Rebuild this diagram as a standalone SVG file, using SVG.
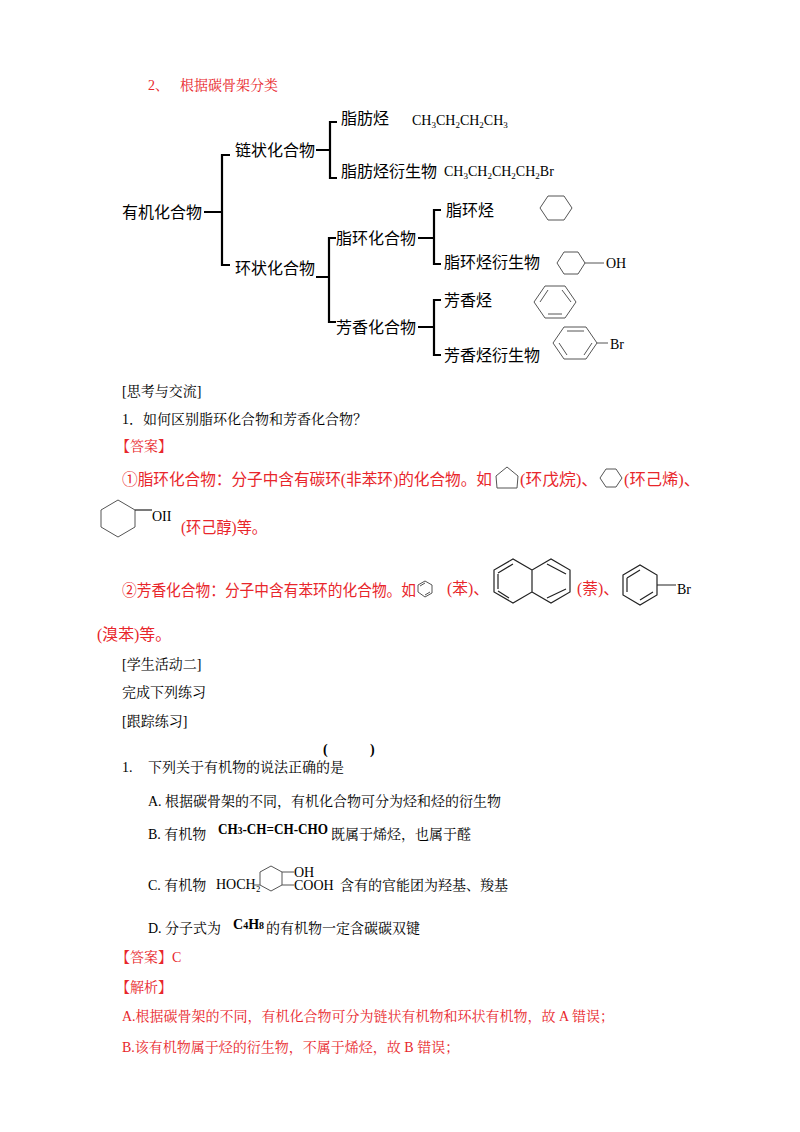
<svg xmlns="http://www.w3.org/2000/svg" width="800" height="1132" viewBox="0 0 800 1132">
<style>
.t{font-family:"Noto Sans CJK SC","Noto Sans CJK JP",sans-serif;font-size:16px;fill:#000}
.s{font-family:"Liberation Serif","Noto Serif CJK SC","Noto Sans CJK SC",serif;font-size:14px;fill:#000}
.r{fill:#e8262b}
.a{font-family:"Liberation Serif","Noto Sans CJK SC",serif;font-size:16px;fill:#e8262b}
.br{fill:none;stroke:#000;stroke-width:2.2}
.ring{fill:none;stroke:#555;stroke-width:1}
.rk{fill:none;stroke:#222;stroke-width:1.2}
</style>
<rect width="800" height="1132" fill="#fff"/>
<text class="s r" x="148" y="90">2、</text>
<text class="s r" x="180" y="90">根据碳骨架分类</text>
<g id="connectors">
<path class="br" d="M204 212H222M230 155H222V265H230"/>
<path class="br" d="M316 150H330M337 122H330V178H337"/>
<path class="br" d="M316 277H329M336 238H329V322H336"/>
<path class="br" d="M418 238H434M441 210H434V264H441"/>
<path class="br" d="M418 327H434M441 300H434V355H441"/>
</g>
<g id="root"><text class="t" x="122" y="218">有机化合物</text></g>
<g id="chain"><text class="t" x="235" y="156">链状化合物</text></g>
<g id="cyclic"><text class="t" x="235" y="274">环状化合物</text></g>
<g id="aliphatic"><text class="t" x="341" y="124">脂肪烃</text>
<text class="s" x="412" y="125">CH<tspan font-size="9" dy="3">3</tspan><tspan dy="-3">CH</tspan><tspan font-size="9" dy="3">2</tspan><tspan dy="-3">CH</tspan><tspan font-size="9" dy="3">2</tspan><tspan dy="-3">CH</tspan><tspan font-size="9" dy="3">3</tspan></text></g>
<g id="aliphatic-der"><text class="t" x="341" y="177">脂肪烃衍生物</text>
<text class="s" x="444" y="176">CH<tspan font-size="9" dy="3">3</tspan><tspan dy="-3">CH</tspan><tspan font-size="9" dy="3">2</tspan><tspan dy="-3">CH</tspan><tspan font-size="9" dy="3">2</tspan><tspan dy="-3">CH</tspan><tspan font-size="9" dy="3">2</tspan><tspan dy="-3">Br</tspan></text></g>
<g id="alicyclic"><text class="t" x="336" y="244">脂环化合物</text></g>
<g id="aromatic"><text class="t" x="336" y="333">芳香化合物</text></g>
<g id="alicyclic-hc"><text class="t" x="446" y="216">脂环烃</text>
<polygon class="ring" points="540,208 548,196 564,196 572,208 564,220 548,220"/></g>
<g id="alicyclic-der"><text class="t" x="444" y="268">脂环烃衍生物</text>
<polygon class="ring" points="557,263 564,252 578,252 585,263 578,274 564,274"/>
<path class="ring" d="M585 263H604"/><text class="s" x="606" y="268">OH</text></g>
<g id="arom-hc"><text class="t" x="444" y="306">芳香烃</text>
<polygon class="ring" points="534,302 545,286 565,286 576,302 565,318 545,318"/>
<path class="ring" d="M540 302L548 290M562 290L571 302M562 314L548 314"/></g>
<g id="arom-der"><text class="t" x="444" y="361">芳香烃衍生物</text>
<polygon class="ring" points="553,343 564,327 586,327 597,343 586,359 564,359"/>
<path class="ring" d="M567 331H584M592 343L584 355M567 355L559 343M597 343H608"/>
<text class="s" x="610" y="349">Br</text></g>

<text class="s" x="122" y="396">[思考与交流]</text>
<text class="s" x="122" y="424">1．如何区别脂环化合物和芳香化合物？</text>
<text class="s r" x="116" y="451" font-size="15">【答案】</text>
<text class="a" x="122" y="485" textLength="370" lengthAdjust="spacingAndGlyphs">①脂环化合物：分子中含有碳环(非苯环)的化合物。如</text>
<polygon class="ring" points="507,467 518,476 517,488 497,488 496,476"/>
<text class="a" x="520" y="485" textLength="78" lengthAdjust="spacingAndGlyphs">(环戊烷)、</text>
<polygon class="ring" points="600,478 606,469 616,469 622,478 616,487 606,487"/>
<text class="a" x="624" y="485" textLength="76" lengthAdjust="spacingAndGlyphs">(环己烯)、</text>
<polygon class="ring" points="101,523 101,510 118,500 135,510 135,527 118,537 101,527"/>
<path class="rk" d="M135 510L152 510"/>
<text class="s" x="152" y="521" font-size="17">OII</text>
<text class="a" x="181" y="533" textLength="86" lengthAdjust="spacingAndGlyphs">(环己醇)等。</text>
<text class="a" x="122" y="596" textLength="294" lengthAdjust="spacingAndGlyphs">②芳香化合物：分子中含有苯环的化合物。如</text>
<polygon class="ring" points="418,592 418,585 425,581 432,585 432,593 425,597"/>
<path class="ring" d="M420 586L425 583M430 592L425 595"/>
<text class="a" x="447" y="594" textLength="42" lengthAdjust="spacingAndGlyphs">(苯)、</text>
<g class="rk">
<path d="M532 570L513 559L494 570V592L513 603L532 592V570L551 559L570 570V592L551 603L532 592"/>
<path d="M498 573L513 564M498 589V574M509 598L498 591M547 564L566 574M566 589L547 598"/>
</g>
<text class="a" x="577" y="594" textLength="42" lengthAdjust="spacingAndGlyphs">(萘)、</text>
<polygon class="rk" points="623,575 640,565 657,575 657,595 640,605 623,595"/>
<path class="rk" d="M627 578L640 570M653 592L640 600M627 592V578M657 585H676"/>
<text class="s" x="677" y="594" font-size="18">Br</text>
<text class="a" x="97" y="640" textLength="74" lengthAdjust="spacingAndGlyphs">(溴苯)等。</text>

<text class="s" x="122" y="669">[学生活动二]</text>
<text class="s" x="122" y="697">完成下列练习</text>
<text class="s" x="122" y="726">[跟踪练习]</text>
<text class="s" x="122" y="772">1.</text>
<text class="s" x="148" y="772">下列关于有机物的说法正确的是</text>
<text class="s" x="323" y="754" font-weight="bold">(</text>
<text class="s" x="370" y="754" font-weight="bold">)</text>
<text class="s" x="148" y="806">A. 根据碳骨架的不同，有机化合物可分为烃和烃的衍生物</text>
<text class="s" x="148" y="839">B. 有机物</text>
<text class="s" x="218" y="834" font-weight="bold" font-size="15" textLength="110" lengthAdjust="spacingAndGlyphs">CH<tspan font-size="10">3</tspan>-CH=CH-CHO</text>
<text class="s" x="331" y="839">既属于烯烃，也属于醛</text>
<text class="s" x="148" y="890">C. 有机物</text>
<text class="s" x="216" y="889" font-size="12" fill="#333">HOCH₂</text>
<polygon class="ring" points="260,885 260,872 271,866 282,872 282,885 271,891"/>
<path class="ring" d="M253 885H260M282 872H294M282 885H294"/>
<text class="s" x="294" y="877" font-size="12" fill="#333">OH</text>
<text class="s" x="294" y="890" font-size="12" fill="#333">COOH</text>
<text class="s" x="340" y="890">含有的官能团为羟基、羧基</text>
<text class="s" x="148" y="933">D. 分子式为</text>
<text class="s" x="233" y="929" font-weight="bold" font-size="14">C<tspan font-size="10">4</tspan>H<tspan font-size="10">8</tspan></text>
<text class="s" x="266" y="933">的有机物一定含碳碳双键</text>
<text class="s r" x="116" y="962">【答案】C</text>
<text class="s r" x="116" y="992">【解析】</text>
<text class="s r" x="122" y="1021">A.根据碳骨架的不同，有机化合物可分为链状有机物和环状有机物，故 A 错误；</text>
<text class="s r" x="122" y="1052">B.该有机物属于烃的衍生物，不属于烯烃，故 B 错误；</text>
</svg>
